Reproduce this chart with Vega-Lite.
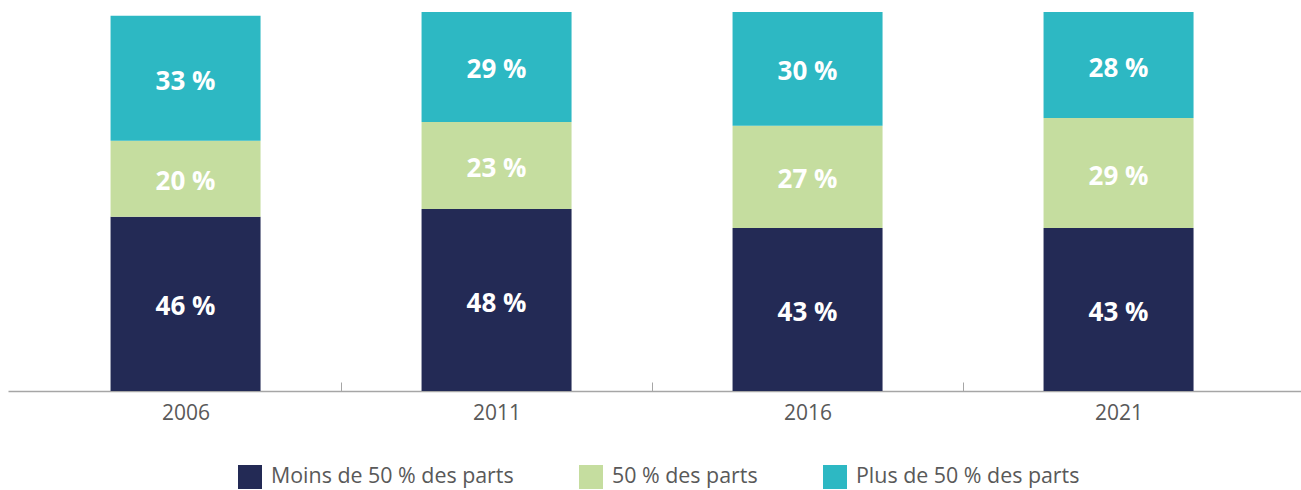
{
  "$schema": "https://vega.github.io/schema/vega-lite/v6.json",
  "autosize": {"type": "none"},
  "width": 1293,
  "height": 379,
  "padding": {"left": 8, "top": 12, "right": 0, "bottom": 99},
  "background": "white",
  "config": {
    "font": "Open Sans",
    "view": {"stroke": null}
  },
  "data": {
    "values": [
      {"annee": "2006", "categorie": "Moins de 50 % des parts", "valeur": 46},
      {"annee": "2006", "categorie": "50 % des parts", "valeur": 20},
      {"annee": "2006", "categorie": "Plus de 50 % des parts", "valeur": 33},
      {"annee": "2011", "categorie": "Moins de 50 % des parts", "valeur": 48},
      {"annee": "2011", "categorie": "50 % des parts", "valeur": 23},
      {"annee": "2011", "categorie": "Plus de 50 % des parts", "valeur": 29},
      {"annee": "2016", "categorie": "Moins de 50 % des parts", "valeur": 43},
      {"annee": "2016", "categorie": "50 % des parts", "valeur": 27},
      {"annee": "2016", "categorie": "Plus de 50 % des parts", "valeur": 30},
      {"annee": "2021", "categorie": "Moins de 50 % des parts", "valeur": 43},
      {"annee": "2021", "categorie": "50 % des parts", "valeur": 29},
      {"annee": "2021", "categorie": "Plus de 50 % des parts", "valeur": 28}
    ]
  },
  "transform": [
    {"calculate": "indexof(['Moins de 50 % des parts', '50 % des parts', 'Plus de 50 % des parts'], datum.categorie)", "as": "rang"},
    {"stack": "valeur", "groupby": ["annee"], "sort": [{"field": "rang", "order": "ascending"}], "as": ["y0", "y1"]},
    {"calculate": "(datum.y0 + datum.y1) / 2", "as": "ymid"},
    {"calculate": "datum.valeur + ' %'", "as": "etiquette"}
  ],
  "encoding": {
    "x": {
      "field": "annee",
      "type": "nominal",
      "title": null,
      "scale": {"paddingInner": 0, "paddingOuter": 0.0788, "align": 0.45},
      "axis": {
        "tickBand": "extent",
        "labelAngle": 0,
        "labelFont": "Open Sans",
        "labelFontSize": 21,
        "labelColor": "#595959",
        "labelPadding": 20,
        "domainColor": "#a6a6a6",
        "domainWidth": 1.5,
        "tickColor": "#a6a6a6",
        "tickSize": -9,
        "tickWidth": 1,
        "tickOpacity": {"condition": {"test": "datum.extra || datum.value == '2021'", "value": 0}, "value": 1}
      }
    }
  },
  "layer": [
    {
      "mark": {"type": "bar", "size": 150},
      "encoding": {
        "y": {"field": "y0", "type": "quantitative", "scale": {"domain": [0, 100]}, "axis": null},
        "y2": {"field": "y1"},
        "color": {
          "field": "categorie",
          "type": "nominal",
          "sort": ["Moins de 50 % des parts", "50 % des parts", "Plus de 50 % des parts"],
          "scale": {
            "domain": ["Moins de 50 % des parts", "50 % des parts", "Plus de 50 % des parts"],
            "range": ["#232a55", "#c5dd9f", "#2db8c3"]
          },
          "legend": {
            "title": null,
            "orient": "none",
            "direction": "horizontal",
            "legendX": 230,
            "legendY": 453,
            "padding": 0,
            "symbolType": "square",
            "symbolSize": 576,
            "symbolStrokeWidth": 0,
            "symbolOpacity": 1,
            "labelFont": "Open Sans",
            "labelFontSize": 21.4,
            "labelColor": "#595959",
            "labelOffset": 9,
            "columnPadding": 65,
            "labelLimit": 400
          }
        }
      }
    },
    {
      "mark": {"type": "text", "font": "Open Sans", "fontWeight": "bold", "fontSize": 26, "color": "white", "baseline": "middle", "align": "center", "dy": 3.5},
      "encoding": {
        "y": {"field": "ymid", "type": "quantitative", "scale": {"domain": [0, 100]}},
        "text": {"field": "etiquette"}
      }
    }
  ]
}
